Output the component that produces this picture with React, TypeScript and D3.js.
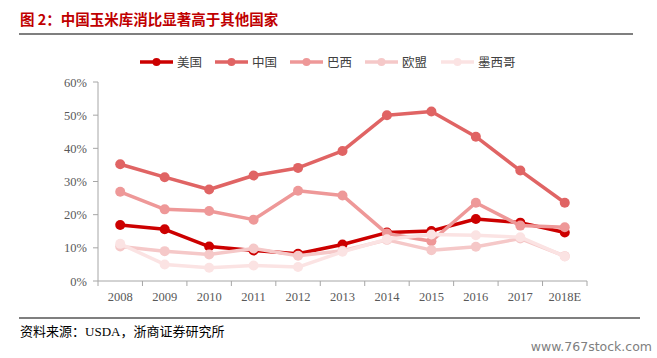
import React from "react";
import * as d3 from "d3";

const categories = ["2008", "2009", "2010", "2011", "2012", "2013", "2014", "2015", "2016", "2017", "2018E"];
const seriesNames = ["美国", "中国", "巴西", "欧盟", "墨西哥"];
const usValues = [16.9, 15.6, 10.4, 9.2, 8.2, 11.0, 14.6, 15.1, 18.7, 17.6, 14.6];
const chinaValues = [35.2, 31.3, 27.6, 31.8, 34.1, 39.2, 50.0, 51.1, 43.5, 33.3, 23.6];
const brazilValues = [26.9, 21.6, 21.1, 18.5, 27.2, 25.8, 14.3, 12.0, 23.6, 16.7, 16.2];
const euValues = [10.4, 9.0, 8.0, 9.8, 7.6, 9.1, 12.4, 9.3, 10.3, 12.8, 7.5];
const mexicoValues = [11.2, 5.0, 4.0, 4.7, 4.2, 8.8, 12.6, 14.0, 13.8, 13.2, 7.4];
const yTicks = [0, 10, 20, 30, 40, 50, 60];
const colors = ["#cc0000", "#e06464", "#ee9898", "#f5c8c8", "#fbe3e3"];

const allSeries = [usValues, chinaValues, brazilValues, euValues, mexicoValues];

export default function App() {
  const W = 657, H = 358;
  const left = 98, right = 587, top = 82, bottom = 281;
  const x = d3.scaleBand<string>().domain(categories).range([left, right]);
  const y = d3.scaleLinear().domain([0, 60]).range([bottom, top]);
  const line = d3.line<number>()
    .x((_, i) => (x(categories[i]) as number) + x.bandwidth() / 2)
    .y((v) => y(v));
  const serif = "'Liberation Serif', 'Times New Roman', serif";
  const cjk = "'Noto Sans CJK SC', sans-serif";
  const legendX = [140, 215, 290, 365, 441];
  const ticksX = d3.range(categories.length + 1).map((i) => left + i * x.bandwidth());

  return (
    <svg width={W} height={H} style={{ position: "absolute", left: 0, top: 0, background: "#fff" }}>
      <text x={20} y={25} fill="#c00000" fontFamily={cjk} fontWeight="bold" fontSize={14.5}>
        图 2：中国玉米库消比显著高于其他国家
      </text>
      <line x1={19} x2={633} y1={34} y2={34} stroke="#000" strokeWidth={1.2} />

      {seriesNames.map((n, i) => (
        <g key={n}>
          <line x1={legendX[i]} x2={legendX[i] + 33} y1={62} y2={62} stroke={colors[i]} strokeWidth={3.5} />
          <circle cx={legendX[i] + 16.5} cy={62} r={4} fill={colors[i]} />
          <text x={legendX[i] + 37} y={66.5} fontFamily={cjk} fontSize={12.5} fill="#404040">{n}</text>
        </g>
      ))}

      <line x1={left} x2={left} y1={top} y2={bottom} stroke="#a6a6a6" strokeWidth={1} />
      {yTicks.map((t) => (
        <g key={t}>
          <line x1={left - 5} x2={left} y1={y(t)} y2={y(t)} stroke="#a6a6a6" />
          <text x={left - 11} y={y(t) + 4.5} textAnchor="end" fontFamily={serif} fontSize={12.5} fill="#595959">{t}%</text>
        </g>
      ))}
      <line x1={left} x2={right} y1={bottom} y2={bottom} stroke="#a6a6a6" strokeWidth={1} />
      {ticksX.map((tx, i) => (
        <line key={i} x1={tx} x2={tx} y1={bottom} y2={bottom + 5} stroke="#a6a6a6" />
      ))}
      {categories.map((c) => (
        <text key={c} x={(x(c) as number) + x.bandwidth() / 2} y={301} textAnchor="middle" fontFamily={serif} fontSize={12.5} fill="#595959">{c}</text>
      ))}

      {allSeries.map((vals, si) => (
        <g key={si}>
          <path d={line(vals) || ""} fill="none" stroke={colors[si]} strokeWidth={3.5} strokeLinejoin="round" />
          {vals.map((v, i) => (
            <circle key={i} cx={(x(categories[i]) as number) + x.bandwidth() / 2} cy={y(v)} r={5} fill={colors[si]} />
          ))}
        </g>
      ))}

      <line x1={19} x2={640} y1={318} y2={318} stroke="#000" strokeWidth={1.2} />
      <text x={20} y={336} fontFamily={serif} fontSize={13} fill="#000">
        <tspan fontFamily={cjk}>资料来源：</tspan>USDA<tspan fontFamily={cjk}>，浙商证券研究所</tspan>
      </text>
      <text x={652} y={351} textAnchor="end" fontFamily="'DejaVu Sans', sans-serif" fontSize={12.5} fill="#808080">www.767stock.com</text>
    </svg>
  );
}
